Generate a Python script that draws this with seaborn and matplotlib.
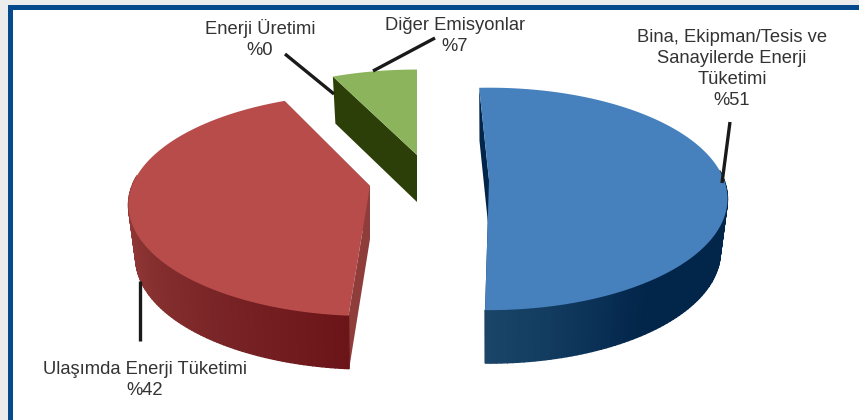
import numpy as np
import matplotlib
matplotlib.use("Agg")
import matplotlib.pyplot as plt
from matplotlib.patches import Rectangle
import seaborn as sns

sns.set_theme(style="white")
plt.rcParams['font.family'] = ['Liberation Sans', 'DejaVu Sans']

#data
slice_names = ["Bina, Ekipman/Tesis ve\nSanayilerde Enerji\nTüketimi", "Ulaşımda Enerji Tüketimi",
               "Enerji Üretimi", "Diğer Emisyonlar"]
slice_values = [51, 42, 0, 7]
slice_tops = ["#4680bd", "#b84c4a", "#4680bd", "#8bb45c"]
slice_cuts = ["#02254a", "#8f3d3b", "#02254a", "#2d3f08"]
rim_colors = [["#1a4568", "#123c60", "#0a3055", "#02254a", "#02254a", "#02254a", "#02254a", "#02254a", "#02254a"],
              ["#9c4341", "#8b3433", "#7a2527", "#6b1519"],
              ["#02254a", "#02254a"],
              ["#2d3f08", "#2d3f08"]]

#layout of each exploded slice in picture pixels
centers = [(489, 180), (370, 186), (0, 0), (417, 155)]
radii = [(235, 108), (238, 108), (1, 1), (228, 100)]
depths = [53, 53, 0, 47]
rotations = [0.8, -2.7, 0, -2]
persp = 0.17
shrink = 0.03

label_pos = [(732, 69), (145, 380), (260, 39), (455, 36)]
leaders = [((730, 122), (722, 183)), ((140, 281), (140, 341)),
           ((285, 54), (334, 94)), ((435, 38), (373, 71))]


def project(theta, r, z, c, rad, depth):
    u = r * np.cos(np.radians(theta))
    v = r * np.sin(np.radians(theta))
    f = 1 / (1 + persp * v)
    x = c[0] + rad[0] * u * f * (1 - shrink * z)
    y = c[1] - rad[1] * v * f + depth * z
    return np.column_stack([x, y])


fig, ax = plt.subplots(figsize=(8.59, 4.2), dpi=100)
fig.patch.set_facecolor("#ececec")
ax.set_position([0, 0, 1, 1])

wedges, _ = ax.pie(slice_values, startangle=92, counterclock=False)
angles = [(w.theta1, w.theta2) for w in wedges]
for w in wedges:
    w.remove()

ax.set_aspect('auto')
ax.set_xlim(0, 859)
ax.set_ylim(420, 0)
ax.axis("off")

#frame
ax.add_patch(Rectangle((0, 0), 859, 420, fc="#ececec", ec="none", zorder=0))
ax.add_patch(Rectangle((8, 5), 851, 415, fc="#044a8c", ec="none", zorder=0))
ax.add_patch(Rectangle((13, 10), 846, 410, fc="white", ec="none", zorder=0))

for i, (t1, t2) in enumerate(angles):
    if slice_values[i] == 0:
        continue
    c, rad, d = centers[i], radii[i], depths[i]
    rot = rotations[i]
    thetas = np.linspace(t1 + rot, t2 + rot, 160)
    apex_top = project(0, 0, 0, c, rad, d)
    apex_bot = project(0, 0, 1, c, rad, d)

    #cut faces
    for th in (thetas[0], thetas[-1]):
        face = np.vstack([apex_top, project(th, 1, 0, c, rad, d),
                          project(th, 1, 1, c, rad, d), apex_bot])
        ax.fill(face[:, 0], face[:, 1], color=slice_cuts[i], lw=0, zorder=2)

    #rim as shaded strips, front part only
    top_rim = project(thetas, 1, 0, c, rad, d)
    bot_rim = project(thetas, 1, 1, c, rad, d)
    front = np.where(np.sin(np.radians(thetas)) <= 0.1)[0]
    if len(front) > 1:
        shades = sns.blend_palette(rim_colors[i], len(front))
        for k, j in enumerate(front[:-1]):
            quad = np.vstack([top_rim[j], top_rim[j + 1], bot_rim[j + 1], bot_rim[j]])
            ax.fill(quad[:, 0], quad[:, 1], color=shades[k], lw=1.0, zorder=3)

    #top
    top = np.vstack([apex_top, top_rim])
    ax.fill(top[:, 0], top[:, 1], color=slice_tops[i], lw=0, zorder=4)

#leaders and labels
for (a, b) in leaders:
    ax.plot([a[0], b[0]], [a[1], b[1]], color="#1a1a1a", lw=2.4, solid_capstyle="butt", zorder=5)

for name, val, pos in zip(slice_names, slice_values, label_pos):
    ax.text(pos[0], pos[1], f"{name}\n%{val}", ha="center", va="center", color="#333333",
            fontsize=13.2, linespacing=1.33, zorder=6)

fig.savefig("out.png", dpi=100, facecolor=fig.get_facecolor())
